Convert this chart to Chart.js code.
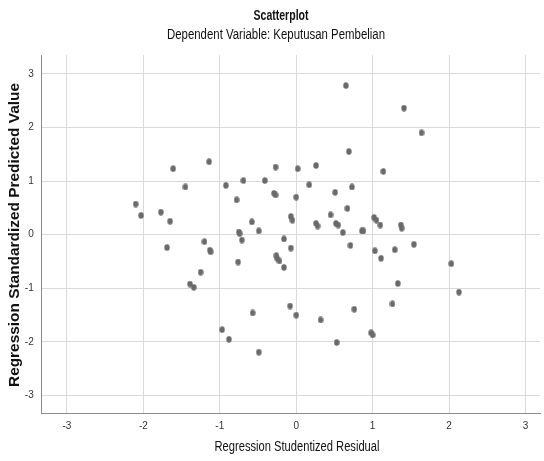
<!DOCTYPE html>
<html>
<head>
<meta charset="utf-8">
<script src="https://cdn.jsdelivr.net/npm/chart.js@4"></script>
<style>
  html, body { margin:0; padding:0; background:#fff; }
  #wrap { width:544px; height:461px; }
</style>
</head>
<body>
<div id="wrap"><canvas id="chart" width="544" height="461"></canvas></div>
<script>
// data
const residuals = [
  -1.61, -1.14, -1.45, -2.10, -2.03, -1.77, -1.65, -1.69, -1.20, -1.13,
  -1.12, -1.25, -1.39, -1.34, 0.65, 0.69, -0.27, 0.02, 0.26, 1.14,
  -0.92, -0.69, -0.41, 0.17, 0.73, -0.78, -0.29, -0.27, 0.00, 0.51,
  0.67, 0.45, -0.58, -0.07, -0.05, 0.26, 0.28, 0.52, 0.55, 1.02,
  1.05, 1.10, -0.49, -0.75, -0.74, -0.71, -0.76, -0.16, -0.07, -0.26,
  -0.25, -0.22, -0.16, 0.61, 0.86, 0.88, 0.71, 1.03, 1.11, 1.29,
  1.26, -0.08, 0.00, -0.57, 0.32, 0.76, -0.97, -0.88, -0.49, 0.53,
  0.98, 1.00, 1.37, 1.38, 1.54, 2.03, 2.13, 1.33, 1.41, 1.64
];
const predicted = [
  1.23, 1.36, 0.89, 0.57, 0.36, 0.42, 0.25, -0.24, -0.13, -0.29,
  -0.32, -0.70, -0.92, -0.98, 2.78, 1.55, 1.26, 1.23, 1.29, 1.18,
  0.92, 1.01, 1.01, 0.93, 0.89, 0.65, 0.77, 0.74, 0.70, 0.79,
  0.49, 0.37, 0.24, 0.34, 0.27, 0.21, 0.16, 0.21, 0.18, 0.32,
  0.27, 0.18, 0.07, 0.05, 0.02, -0.10, -0.51, -0.08, -0.25, -0.39,
  -0.44, -0.49, -0.61, 0.04, 0.07, 0.07, -0.20, -0.30, -0.44, -0.28,
  -1.29, -1.33, -1.50, -1.46, -1.59, -1.39, -1.77, -1.95, -2.19, -2.01,
  -1.83, -1.87, 0.18, 0.12, -0.18, -0.54, -1.07, -0.91, 2.36, 1.90
];
const titleText = 'Scatterplot';
const subtitleText = 'Dependent Variable: Keputusan Pembelian';
const xTitle = 'Regression Studentized Residual';
const yTitle = 'Regression Standardized Predicted Value';

const sans = '"Liberation Sans", Arial, sans-serif';
const points = residuals.map((x, i) => ({ x: x, y: predicted[i] }));

// SPSS markers are slightly taller than wide
const dot = document.createElement('canvas');
dot.width = 6; dot.height = 7;
(function(){
  const c = dot.getContext('2d');
  c.fillStyle = '#6a6a6a';
  c.beginPath();
  c.ellipse(3, 3.5, 2.7, 3.3, 0, 0, Math.PI*2);
  c.fill();
})();

// draw text squeezed/stretched to a given width (reference uses a narrow face)
function fitText(ctx, text, x, y, font, width, rot){
  ctx.save();
  ctx.font = font;
  const w = ctx.measureText(text).width;
  ctx.translate(x, y);
  if(rot) ctx.rotate(rot);
  ctx.scale(width / w, 1);
  ctx.fillText(text, 0, 0);
  ctx.restore();
}

const textPlugin = {
  id: 'texts',
  afterDraw(chart){
    const ctx = chart.ctx;
    ctx.save();
    ctx.fillStyle = '#111';
    ctx.textAlign = 'center';
    ctx.textBaseline = 'alphabetic';
    fitText(ctx, titleText, 281, 20, 'bold 14px ' + sans, 55);
    fitText(ctx, subtitleText, 276, 38.5, '14px ' + sans, 218);
    fitText(ctx, xTitle, 297, 450.5, '14px ' + sans, 165);
    fitText(ctx, yTitle, 18.5, 235, 'bold 14px ' + sans, 304, -Math.PI/2);
    ctx.restore();
  }
};

new Chart(document.getElementById('chart'), {
  type: 'scatter',
  data: { datasets: [{
    data: points,
    pointStyle: dot,
    pointRadius: 3,
    pointHoverRadius: 3
  }]},
  options: {
    responsive: false,
    animation: false,
    layout: { padding: { top: 55, left: 0, right: 0, bottom: 0 } },
    plugins: { legend: { display: false }, tooltip: { enabled: false } },
    scales: {
      x: {
        min: -3.33, max: 3.19,
        afterFit: s => { s.height = 47.7; },
        ticks: { stepSize: 1, includeBounds: false, padding: 7, color: '#333', font: { family: sans, size: 10 } },
        grid: { color: '#d9d9d9', drawTicks: false },
        border: { color: '#8c8c8c' }
      },
      y: {
        min: -3.33, max: 3.35,
        afterFit: s => { s.width = 41.7; },
        ticks: { stepSize: 1, includeBounds: false, padding: 8, color: '#333', font: { family: sans, size: 10 } },
        grid: { color: '#d9d9d9', drawTicks: false },
        border: { color: '#8c8c8c' }
      }
    }
  },
  plugins: [textPlugin]
});
</script>
</body>
</html>
